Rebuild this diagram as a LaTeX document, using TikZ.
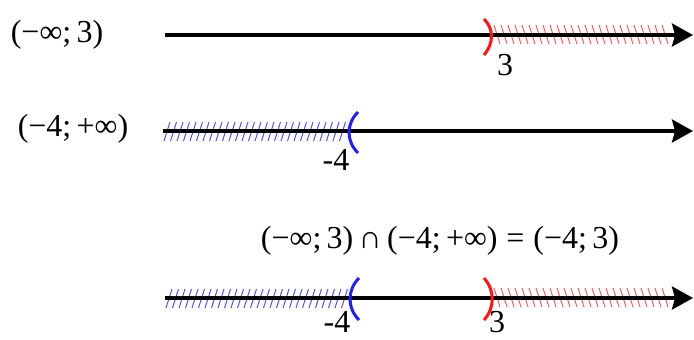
\documentclass[tikz,border=0pt]{standalone}
\usepackage{fontspec}
\setmainfont{Liberation Serif}
\usetikzlibrary{arrows.meta}
\definecolor{rbr}{RGB}{255,20,20}
\definecolor{rht}{RGB}{255,90,90}
\definecolor{bbr}{RGB}{30,30,255}
\definecolor{bht}{RGB}{80,80,255}
\begin{document}
\begin{tikzpicture}[x=1pt,y=-1pt,
  axis/.style={line width=3.2pt,-{Stealth[length=21pt,width=23pt,inset=3pt]}},
  redbr/.style={draw=rbr,line width=3pt},
  bluebr/.style={draw=bbr,line width=3pt},
  redhatch/.style={draw=rht,line width=1pt},
  bluehatch/.style={draw=bht,line width=1pt},
  lbl/.style={inner sep=0pt,font=\fontsize{32}{34}\selectfont}]
\useasboundingbox (0,0) rectangle (694,340);
% line 1
\foreach \x in {494,501,...,668} \draw[redhatch] (\x,25) -- ++(6,19);
\coordinate (a1s) at (165,35);
\coordinate (a1e) at (693,35);
\draw[axis] (a1s) -- (a1e);
\coordinate (r1t) at (484,19);
\coordinate (r1b) at (484,55);
\draw[redbr] (r1t) .. controls (494,29) and (494,43) .. (r1b);
\node[lbl] (t1) at (57,35) {(−∞;\,3)};
\node[lbl] (n3a) at (505,65) {3};
% line 2
\foreach \x in {164,170.5,...,340} \draw[bluehatch] (\x,141) -- ++(6,-19);
\coordinate (a2s) at (163,131);
\coordinate (a2e) at (693,131);
\draw[axis] (a2s) -- (a2e);
\coordinate (b2t) at (358,112);
\coordinate (b2b) at (358,153);
\draw[bluebr] (b2t) .. controls (346,124) and (346,141) .. (b2b);
\node[lbl] (t2) at (73,129) {(−4;\,+∞)};
\node[lbl] (n4a) at (336,160) {-4};
% formula
\node[lbl] (f) at (440,241) {(−∞;\,3)\,∩\,(−4;\,+∞)\;=\;(−4;\,3)};
% line 3
\foreach \x in {166,172.5,...,343} \draw[bluehatch] (\x,308) -- ++(6,-19);
\foreach \x in {494,501,...,668} \draw[redhatch] (\x,288) -- ++(6,19);
\coordinate (a3s) at (165,298);
\coordinate (a3e) at (693,298);
\draw[axis] (a3s) -- (a3e);
\coordinate (b3t) at (359,278);
\coordinate (b3b) at (359,320);
\draw[bluebr] (b3t) .. controls (347,290) and (347,308) .. (b3b);
\coordinate (r3t) at (484,278);
\coordinate (r3b) at (484,320);
\draw[redbr] (r3t) .. controls (495,290) and (495,308) .. (r3b);
\node[lbl] (n4b) at (337,322) {-4};
\node[lbl] (n3b) at (497,322) {3};
\end{tikzpicture}
\end{document}
